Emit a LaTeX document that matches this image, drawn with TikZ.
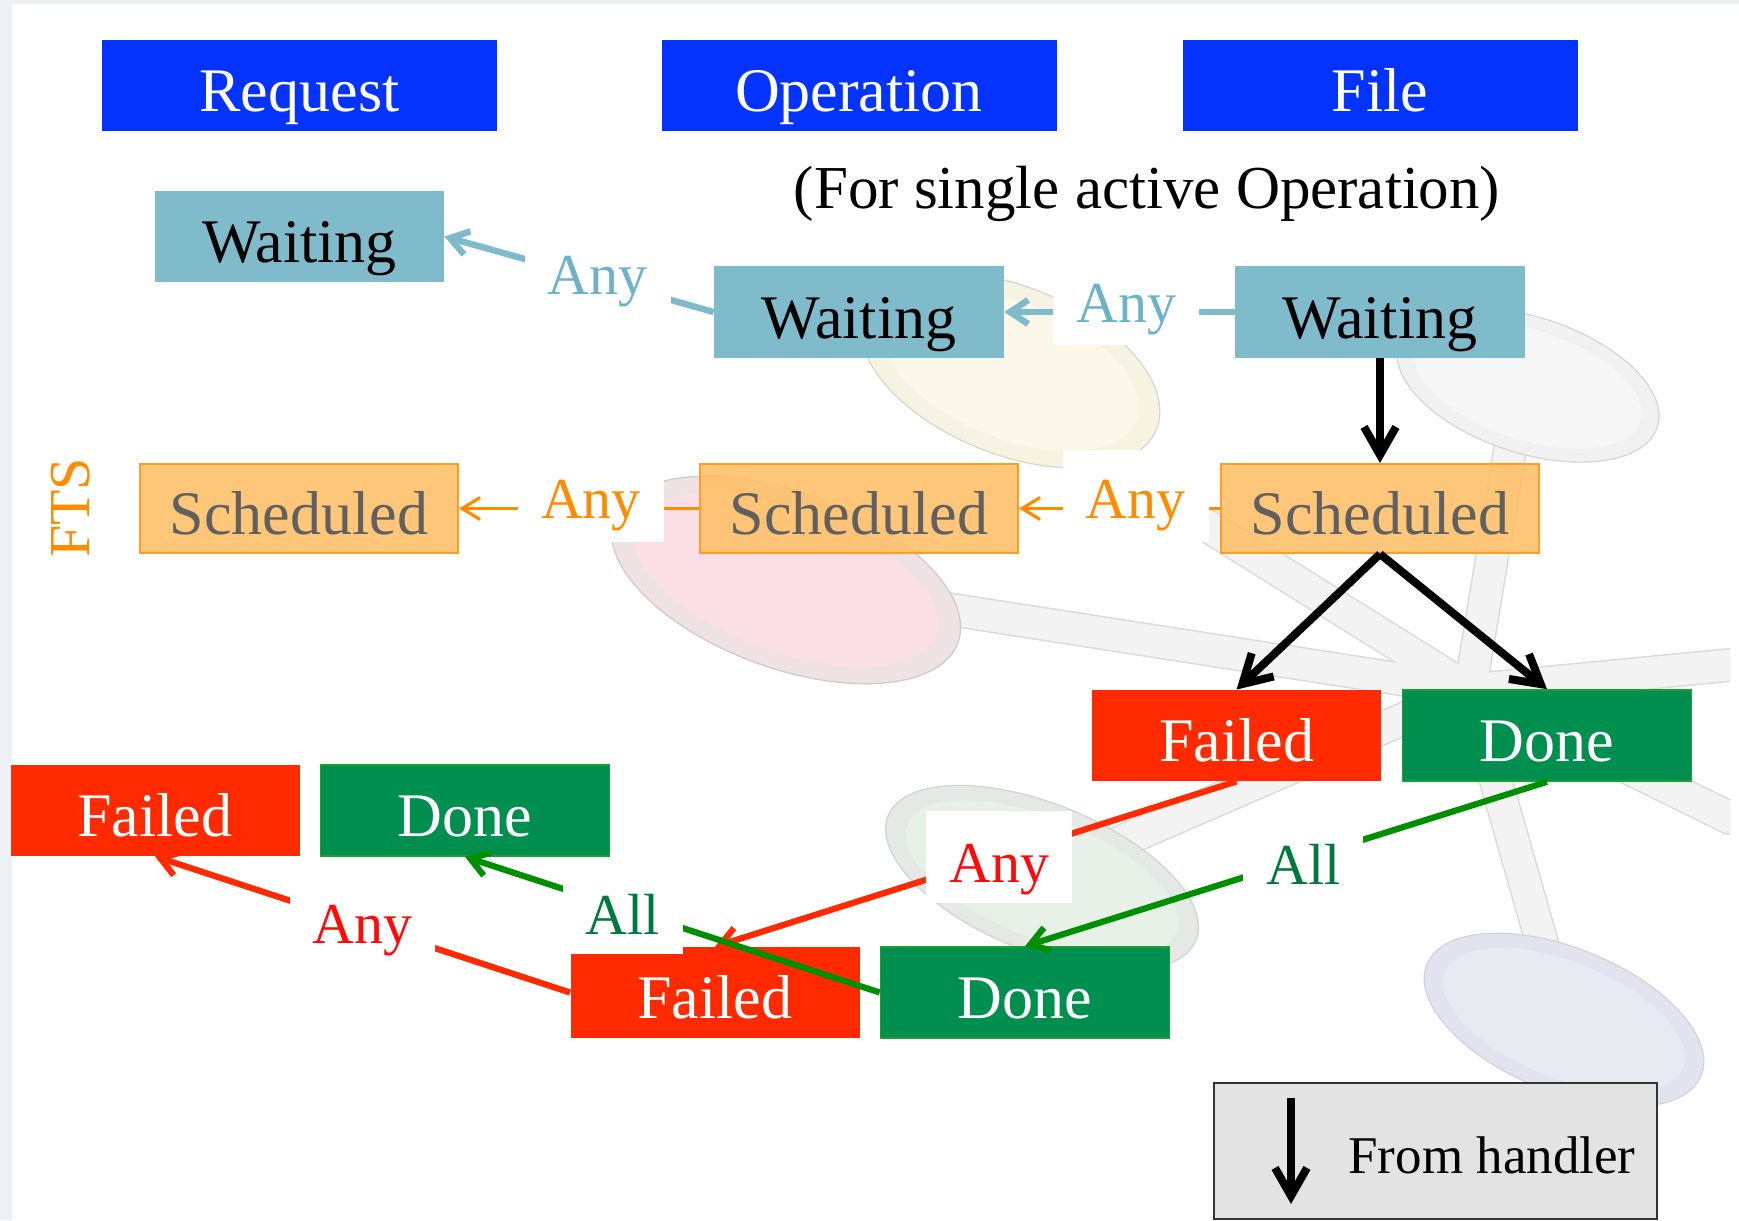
\documentclass[tikz,border=0pt]{standalone}
\usepackage{fontspec}
\setmainfont{Liberation Serif}
\usetikzlibrary{arrows.meta}

% state colours
\definecolor{hdrblue}{HTML}{0433FF}
\definecolor{waitfill}{HTML}{7FBBCB}
\definecolor{waitline}{HTML}{7DBACC}
\definecolor{waittext}{HTML}{6DB3C8}
\definecolor{schedfill}{HTML}{FEC06A}
\definecolor{schedline}{HTML}{FF8C00}
\definecolor{schedtext}{HTML}{606060}
\definecolor{failfill}{HTML}{FF2A00}
\definecolor{failtext}{HTML}{FF0A0A}
\definecolor{donefill}{HTML}{008F4F}
\definecolor{doneedge}{HTML}{1C9E32}
\definecolor{doneline}{HTML}{008F00}
\definecolor{donetext}{HTML}{007A3C}
\definecolor{legendfill}{HTML}{E3E3E3}
\definecolor{legendedge}{HTML}{333333}
\definecolor{framegray}{HTML}{EDF1F6}
% backdrop colours
\definecolor{baredge}{HTML}{DADADA}
\definecolor{barfill}{HTML}{F3F3F3}
\definecolor{yring}{HTML}{F7F3E3}
\definecolor{yinner}{HTML}{FBF8E9}
\definecolor{yedge}{HTML}{D8D5CC}
\definecolor{gring}{HTML}{F1F1F1}
\definecolor{ginner}{HTML}{F6F6F6}
\definecolor{gedge}{HTML}{D5D5D5}
\definecolor{pring}{HTML}{EEE2E4}
\definecolor{pinner}{HTML}{FADFE6}
\definecolor{pedge}{HTML}{CFC7C9}
\definecolor{mring}{HTML}{E5E9E5}
\definecolor{minner}{HTML}{E8F1E8}
\definecolor{medge}{HTML}{D0D4D0}
\definecolor{lring}{HTML}{E3E3EF}
\definecolor{linner}{HTML}{E8E9F1}
\definecolor{ledge}{HTML}{D2D2DC}

\begin{document}
\begin{tikzpicture}[x=0.5pt,y=-0.5pt,
  box/.style={rectangle, inner sep=0pt, minimum width=144.5pt, minimum height=45.5pt,
    text height=26pt, text depth=0pt, font=\fontsize{31}{31}\selectfont},
  hdr/.style={box, fill=hdrblue, text=white, minimum width=197.5pt},
  waitbox/.style={box, fill=waitfill, text=black},
  schedbox/.style={box, fill=schedfill, fill opacity=0.9, text opacity=1,
    draw=schedline!85, line width=1pt, text=schedtext,
    minimum width=159pt, minimum height=44.5pt},
  failbox/.style={box, fill=failfill, text=white},
  donebox/.style={box, fill=donefill, draw=doneedge, line width=0.8pt, text=white},
  lab/.style={fill=white, inner xsep=11.5pt, inner ysep=0pt, minimum height=46pt,
    text height=26pt, text depth=0pt, font=\fontsize{29}{29}\selectfont},
  hlab/.style={lab, text height=23pt, yshift=6.5pt},
  blueedge/.style={draw=waitline, line width=3.2pt,
    -{Straight Barb[length=9pt,width=12pt]}},
  orangeedge/.style={draw=schedline, line width=1.6pt,
    -{Straight Barb[length=9pt,width=11pt]}},
  rededge/.style={draw=failfill, line width=3.1pt,
    -{Straight Barb[length=9pt,width=12pt]}},
  greenedge/.style={draw=doneline, line width=3.1pt,
    -{Straight Barb[length=9pt,width=12pt]}},
  blackedge/.style={draw=black, line width=4pt,
    -{Straight Barb[length=14pt,width=16pt]}}
]
\useasboundingbox (0,0) rectangle (1739,1220);
\fill[white] (0,0) rectangle (1739,1220);
\fill[framegray] (0,0) rectangle (1739,4);
\fill[framegray] (0,0) rectangle (12,1220);

% faint molecule backdrop: bars from a hub, then the balls
\begin{scope}
  \clip (12,4) rectangle (1730,1220);
  \foreach \px/\py in {1515/420, 1730/665, 1730/818, 786/584, 1030/415, 1042/876, 1564/1020}
    \draw[baredge, line width=17pt, line cap=round] (1470,690) -- (\px,\py);
  \foreach \px/\py in {1515/420, 1730/665, 1730/818, 786/584, 1030/415, 1042/876, 1564/1020}
    \draw[barfill, line width=15.5pt, line cap=round] (1470,690) -- (\px,\py);
\end{scope}

\begin{scope}[rotate around={-22:(1010,370)}]
  \filldraw[fill=yring, draw=yedge, line width=0.6pt] (1010,370) ellipse [x radius=158, y radius=84];
  \fill[yinner] (1010,370) ellipse [x radius=136, y radius=68];
\end{scope}
\begin{scope}[rotate around={-18:(1528,385)}]
  \filldraw[fill=gring, draw=gedge, line width=0.6pt] (1528,385) ellipse [x radius=136, y radius=68];
  \fill[ginner] (1528,385) ellipse [x radius=118, y radius=55];
\end{scope}
\begin{scope}[rotate around={-20:(786,580)}]
  \filldraw[fill=pring, draw=pedge, line width=0.6pt] (786,580) ellipse [x radius=183, y radius=88];
  \fill[pinner] (786,580) ellipse [x radius=160, y radius=72];
\end{scope}
\begin{scope}[rotate around={-22:(1042,878)}]
  \filldraw[fill=mring, draw=medge, line width=0.6pt] (1042,878) ellipse [x radius=166, y radius=74];
  \fill[minner] (1042,878) ellipse [x radius=145, y radius=60];
\end{scope}
\begin{scope}[rotate around={-22:(1564,1020)}]
  \filldraw[fill=lring, draw=ledge, line width=0.6pt] (1564,1020) ellipse [x radius=148, y radius=72];
  \fill[linner] (1564,1020) ellipse [x radius=128, y radius=58];
\end{scope}

% column headers
\node[hdr] (hreq) at (299.5,85.5) {Request};
\node[hdr] (hop)  at (859,85.5)   {Operation};
\node[hdr] (hfile) at (1380,85.5) {File};
\node[anchor=base, inner sep=0pt, font=\fontsize{30.5}{30.5}\selectfont] (sub) at (1147,208)
  {(For single active Operation)};

% side label
\node[rotate=90, text=schedline, inner sep=0pt, text height=19pt, text depth=0pt,
  font=\fontsize{29}{29}\selectfont] (fts) at (70,508) {FTS};

% states
\node[waitbox] (wr) at (299.5,236.5) {Waiting};
\node[waitbox, minimum width=145pt, minimum height=46pt] (wo) at (859,312) {Waiting};
\node[waitbox, minimum width=145pt, minimum height=46pt] (wf) at (1380,312) {Waiting};

\node[schedbox] (sr) at (299,508.5)  {Scheduled};
\node[schedbox] (so) at (859,508.5)  {Scheduled};
\node[schedbox] (sf) at (1380,508.5) {Scheduled};

\node[failbox] (ff) at (1236.5,735.5) {Failed};
\node[donebox] (df) at (1547,735.5)   {Done};
\node[failbox] (fr) at (155,810.5)    {Failed};
\node[donebox] (dr) at (465,810.5)    {Done};
\node[failbox] (fo) at (715,992.5)    {Failed};
\node[donebox] (do) at (1025,992.5)   {Done};

% transitions
\draw[blueedge] (wo.west) -- node[lab, text=waittext, text height=15pt, pos=0.43] (l1) {Any} (wr.east);
\draw[blueedge] (wf.west) -- node[hlab, text=waittext, pos=0.47] (l2) {Any} (wo.east);
\draw[blackedge] (wf.south) -- (sf.north);
\draw[orangeedge] (so.west) -- node[hlab, text=schedline, pos=0.45] (l3) {Any} (sr.east);
\draw[orangeedge] (sf.west) -- node[hlab, text=schedline, pos=0.42] (l4) {Any} (so.east);
\draw[blackedge] (sf.south) -- (ff.north);
\draw[blackedge] (sf.south) -- (df.north);
\draw[rededge] (ff.south) -- node[lab, text=failtext, pos=0.455] (l5) {Any} (fo.north);
\draw[greenedge] (df.south) -- node[lab, text=donetext, pos=0.467] (l6) {All} (do.north);
\draw[rededge] (fo.west) -- node[lab, text=failtext, text height=19pt, pos=0.5] (l7) {Any} (fr.south);
\draw[greenedge] (do.west) -- node[lab, text=donetext, pos=0.62] (l8) {All} (dr.south);

% legend
\node[draw=legendedge, fill=legendfill, line width=1pt, inner sep=0pt,
  minimum width=221.5pt, minimum height=68pt] (leg) at (1435.5,1151) {};
\coordinate (lega) at (1291,1098);
\coordinate (legb) at (1291,1204);
\draw[blackedge] (lega) -- (legb);
\node[anchor=base west, inner sep=0pt, font=\fontsize{26.5}{26.5}\selectfont] (legt) at (1348,1173)
  {From handler};
\end{tikzpicture}
\end{document}
